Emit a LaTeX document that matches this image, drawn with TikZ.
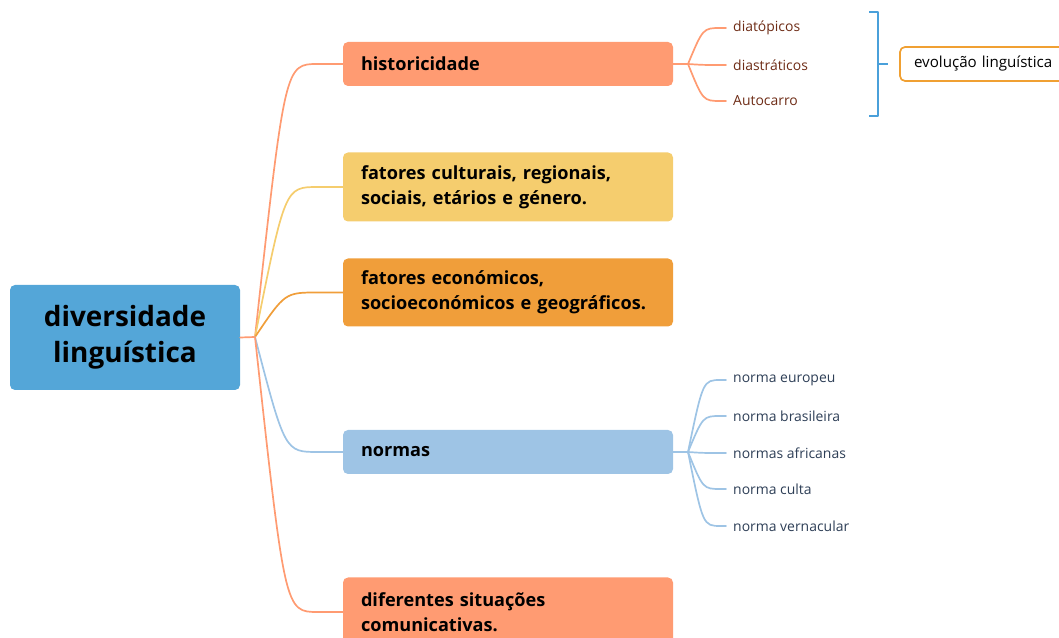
\documentclass[tikz,border=0pt]{standalone}
\usepackage{fontspec}
\setmainfont{Open Sans}
\definecolor{rootcol}{RGB}{84,166,216}
\definecolor{salmon}{RGB}{255,155,114}
\definecolor{sand}{RGB}{245,205,110}
\definecolor{amber}{RGB}{240,158,58}
\definecolor{sky}{RGB}{158,196,229}
\definecolor{brown}{RGB}{110,44,22}
\definecolor{navy}{RGB}{45,62,86}
\definecolor{brack}{RGB}{74,160,218}
\definecolor{evobord}{RGB}{240,160,50}
\begin{document}
\begin{tikzpicture}[line join=round,line cap=round,
  rootbox/.style={rectangle,rounded corners=5bp,fill=rootcol,minimum width=230bp,minimum height=105bp,
    align=center,font=\fontsize{28}{36}\selectfont\bfseries},
  topic/.style={rectangle,rounded corners=5bp,text width=294bp,inner xsep=18bp,inner ysep=0bp,
    align=left,font=\fontsize{18.2}{25}\selectfont\bfseries},
  sub/.style={anchor=west,inner xsep=4bp,inner ysep=2bp,font=\fontsize{14}{16}\selectfont},
  link/.style={line width=1.7bp},
]
\useasboundingbox (0bp,0bp) rectangle (1059bp,638bp);
\clip (0bp,0bp) rectangle (1059bp,638bp);
%%
  \node (root) at (125bp,300.5bp) [rootbox] {diversidade\\linguística};
  \coordinate (hub) at (255bp,301bp);
  \node (hist) at (508bp,574bp) [topic,fill=salmon,minimum height=44bp] {historicidade};
  \node (cult) at (508bp,451bp) [topic,fill=sand,minimum height=69bp] {fatores culturais, regionais,\\sociais, etários e género.};
  \node (econ) at (508bp,345.5bp) [topic,fill=amber,minimum height=68bp] {fatores económicos,\\socioeconómicos e geográficos.};
  \node (norm) at (508bp,186bp) [topic,fill=sky,minimum height=44bp] {normas};
  \node (situ) at (508bp,26bp) [topic,fill=salmon,minimum height=69bp] {diferentes situações\\comunicativas.};
%
  \draw [link,salmon] (root.east) -- (hub);
  \draw [link,salmon] (hub) ..controls (285bp,574bp) .. (318bp,574bp) -- (hist.west);
  \draw [link,sand] (hub) ..controls (285bp,451bp) .. (318bp,451bp) -- (cult.west);
  \draw [link,amber] (hub) ..controls (285bp,345.5bp) .. (318bp,345.5bp) -- (econ.west);
  \draw [link,sky] (hub) ..controls (285bp,186bp) .. (318bp,186bp) -- (norm.west);
  \draw [link,salmon] (hub) ..controls (285bp,26bp) .. (318bp,26bp) -- (situ.west);
%
  \coordinate (hhub) at (688bp,574bp);
  \node (diat) at (729bp,610bp) [sub,brown] {diatópicos};
  \node (dias) at (729bp,573bp) [sub,brown] {diastráticos};
  \node (auto) at (729bp,537bp) [sub,brown] {Autocarro};
  \draw [link,salmon] (hist.east) -- (hhub);
  \foreach \t in {diat,dias,auto}
    \draw [link,salmon] (hhub) ..controls ([xshift=-26bp]\t.west) .. ([xshift=-8bp]\t.west) -- ([xshift=-3bp]\t.west);
%
  \coordinate (nhub) at (688bp,186bp);
  \node (neur) at (729bp,258bp) [sub,navy] {norma europeu};
  \node (nbra) at (729bp,222bp) [sub,navy] {norma brasileira};
  \node (nafr) at (729bp,185bp) [sub,navy] {normas africanas};
  \node (ncul) at (729bp,149bp) [sub,navy] {norma culta};
  \node (nver) at (729bp,112bp) [sub,navy] {norma vernacular};
  \draw [link,sky] (norm.east) -- (nhub);
  \foreach \t in {neur,nbra,nafr,ncul,nver}
    \draw [link,sky] (nhub) ..controls ([xshift=-26bp]\t.west) .. ([xshift=-8bp]\t.west) -- ([xshift=-3bp]\t.west);
%
  \node (evo) at (989bp,574bp) [rectangle,rounded corners=5bp,draw=evobord,line width=1.7bp,fill=white,
    minimum height=34bp,inner xsep=14bp,text width=150bp,align=left,font=\fontsize{15.2}{16}\selectfont] {evolução linguística};
  \coordinate (btop) at (878bp,626bp);
  \coordinate (bbot) at (878bp,522bp);
  \coordinate (bmid) at (878bp,574bp);
  \draw [link,brack,line cap=butt] ([xshift=-9bp]btop) -- (btop) -- (bbot) -- ([xshift=-9bp]bbot);
  \draw [link,brack,line cap=butt] (bmid) -- ([xshift=10bp]bmid);
%
\end{tikzpicture}
\end{document}
